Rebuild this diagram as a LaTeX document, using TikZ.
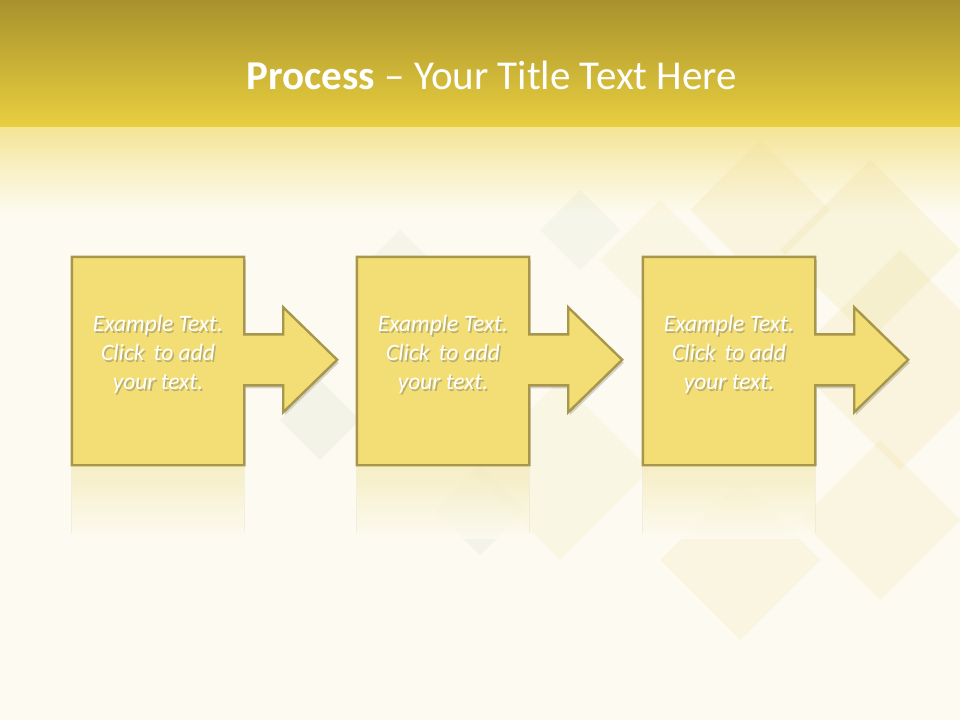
\documentclass[tikz,border=0pt]{standalone}
\usepackage{fontspec}
\setmainfont{Carlito}
\definecolor{bgcream}{HTML}{FDFBF1}
\definecolor{titletop}{HTML}{A8922D}
\definecolor{titlebot}{HTML}{E9CF3F}
\definecolor{fadeyel}{HTML}{F4E494}
\definecolor{boxfill}{HTML}{F2DE74}
\definecolor{boxline}{HTML}{A8964A}
\definecolor{reflc}{HTML}{F4EAB8}
\definecolor{dmyel}{HTML}{EEDC95}
\definecolor{dmgrn}{HTML}{C9D3C2}
\begin{document}
\begin{tikzpicture}[x=1pt,y=-1pt,
  shapeline/.style={fill=boxfill,draw=boxline,line width=2.4pt,line join=miter},
  shadowline/.style={fill=black,opacity=0.16},
  anchorbox/.style={rectangle,minimum width=172pt,minimum height=208pt,inner sep=0pt},
  bodytext/.style={text=white,font=\fontsize{23.5}{29}\selectfont\itshape,align=center,inner sep=0pt},
  shadowtext/.style={text=black!60,opacity=0.4,font=\fontsize{23.5}{29}\selectfont\itshape,align=center,inner sep=0pt}]
\useasboundingbox (0,0) rectangle (960,720);
\fill[bgcream] (0,0) rectangle (960,720);
% title band
\shade[top color=titletop,bottom color=titlebot] (0,0) rectangle (960,127);
\shade[top color=fadeyel,bottom color=bgcream,middle color=bgcream!55!fadeyel] (0,127) rectangle (960,215);
% background diamonds
\fill[dmyel,opacity=0.22] (870,250) ++(-90,0) -- ++(90,-90) -- ++(90,90) -- ++(-90,90) -- cycle;
\fill[dmyel,opacity=0.2] (760,210) ++(-70,0) -- ++(70,-70) -- ++(70,70) -- ++(-70,70) -- cycle;
\fill[dmyel,opacity=0.14] (660,260) ++(-60,0) -- ++(60,-60) -- ++(60,60) -- ++(-60,60) -- cycle;
\fill[dmyel,opacity=0.2] (900,360) ++(-110,0) -- ++(110,-110) -- ++(110,110) -- ++(-110,110) -- cycle;
\fill[dmyel,opacity=0.18] (880,520) ++(-80,0) -- ++(80,-80) -- ++(80,80) -- ++(-80,80) -- cycle;
\fill[dmyel,opacity=0.18] (740,560) ++(-80,0) -- ++(80,-80) -- ++(80,80) -- ++(-80,80) -- cycle;
\fill[dmyel,opacity=0.14] (560,470) ++(-90,0) -- ++(90,-90) -- ++(90,90) -- ++(-90,90) -- cycle;
\fill[dmgrn,opacity=0.18] (480,510) ++(-45,0) -- ++(45,-45) -- ++(45,45) -- ++(-45,45) -- cycle;
\fill[dmgrn,opacity=0.18] (320,420) ++(-40,0) -- ++(40,-40) -- ++(40,40) -- ++(-40,40) -- cycle;
\fill[dmgrn,opacity=0.16] (400,260) ++(-30,0) -- ++(30,-30) -- ++(30,30) -- ++(-30,30) -- cycle;
\fill[dmgrn,opacity=0.14] (580,230) ++(-40,0) -- ++(40,-40) -- ++(40,40) -- ++(-40,40) -- cycle;
\node[text=white,font=\fontsize{41}{46}\selectfont,inner sep=0pt] (title) at (492,75) {\textbf{Process} – Your Title Text Here};
% process steps
\foreach \i/\cx in {1/158,2/443,3/729}{
  \node[anchorbox] (b\i) at (\cx,361) {};
  \shade[top color=reflc,bottom color=bgcream,opacity=0.8] ([yshift=2pt]b\i.south west) rectangle ++(172,75);
  \draw[boxline!40,line width=1.2pt,opacity=0.3] ([yshift=2pt]b\i.south west) -- ++(0,70);
  \draw[boxline!40,line width=1.2pt,opacity=0.3] ([yshift=2pt]b\i.south east) -- ++(0,70);
  \fill[shadowline] ([shift={(2,3)}]b\i.north west) -- ++(172,0) -- ++(0,77.5) -- ++(39,0) -- ++(0,-27) -- ++(54,52.5) -- ++(-54,52.5) -- ++(0,-27) -- ++(-39,0) -- ++(0,77.5) -- ++(-172,0) -- cycle;
  \path[shapeline] (b\i.north west) -- (b\i.north east) -- ++(0,77.5) -- ++(39,0) -- ++(0,-27) -- ++(54,52.5) -- ++(-54,52.5) -- ++(0,-27) -- ++(-39,0) -- (b\i.south east) -- (b\i.south west) -- cycle;
  \node[shadowtext] at ([shift={(1.6,1.8)}]b\i.center) [yshift=7pt] {Example Text.\\Click\, to add\\your text.};
  \node[bodytext] (t\i) at (b\i.center) [yshift=7pt] {Example Text.\\Click\, to add\\your text.};
}
\end{tikzpicture}
\end{document}
